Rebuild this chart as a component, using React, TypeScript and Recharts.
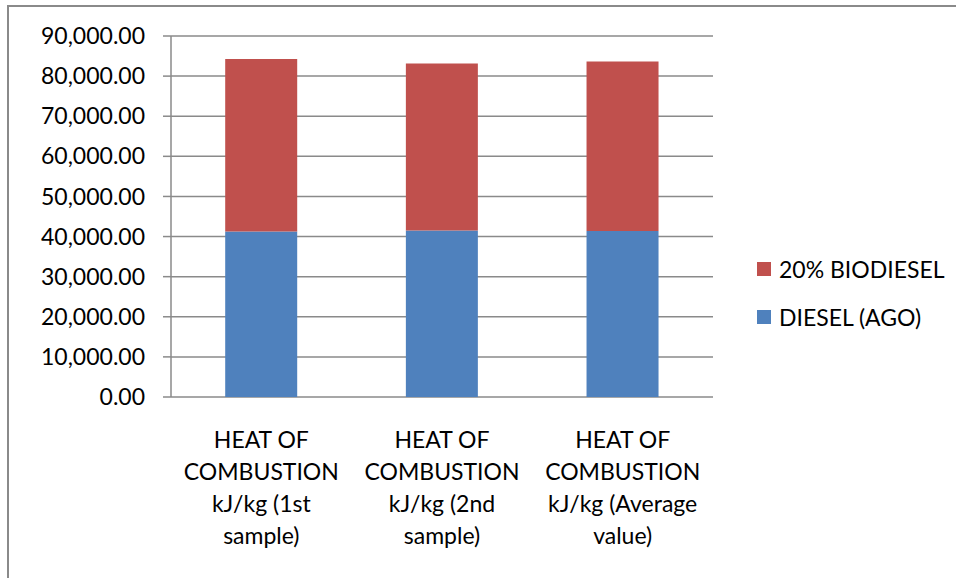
import React from "react";
import { BarChart, Bar, XAxis, YAxis, CartesianGrid, Legend } from "recharts";

const categoryLines = [
  ["HEAT OF", "COMBUSTION", "kJ/kg (1st", "sample)"],
  ["HEAT OF", "COMBUSTION", "kJ/kg (2nd", "sample)"],
  ["HEAT OF", "COMBUSTION", "kJ/kg (Average", "value)"],
];
const categories = categoryLines.map((l) => l.join(" "));
const dieselValues = [41270, 41520, 41400];
const biodieselValues = [43020, 41600, 42220];
const yTicks = [0, 10000, 20000, 30000, 40000, 50000, 60000, 70000, 80000, 90000];
const edgeTicks = [0, 1, 2, 3];

const series = [
  { key: "diesel", name: "DIESEL (AGO)", color: "#4F81BD" },
  { key: "biodiesel", name: "20% BIODIESEL", color: "#C0504D" },
];

const data = categories.map((c, i) => ({
  name: c,
  diesel: dieselValues[i],
  biodiesel: biodieselValues[i],
}));

const FONT = "Lato, 'Open Sans', sans-serif";
const GRID = "#8a8a8a";

function CategoryTick(props: any) {
  const { x, y, index } = props;
  const lines = categoryLines[index] || [];
  return (
    <text x={x} y={y} textAnchor="middle" fontFamily={FONT} fontSize={23} fill="#000">
      {lines.map((line, i) => (
        <tspan key={i} x={x} y={y + 51 + i * 32}>
          {line}
        </tspan>
      ))}
    </text>
  );
}

function LegendBox() {
  const items = [...series].reverse();
  return (
    <div style={{ fontFamily: FONT, fontSize: 23, color: "#000" }}>
      {items.map((s) => (
        <div key={s.key} style={{ display: "flex", alignItems: "center", height: 48 }}>
          <span style={{ width: 14, height: 14, background: s.color, marginRight: 8, display: "inline-block" }} />
          {s.name}
        </div>
      ))}
    </div>
  );
}

export default function App() {
  return (
    <div style={{ position: "absolute", left: 0, top: 0, width: 956, height: 578, overflow: "hidden", background: "#fff" }}>
      <div
        style={{
          position: "absolute",
          left: 7,
          top: 5,
          width: 1200,
          height: 1000,
          borderTop: `2px solid ${GRID}`,
          borderLeft: `2px solid ${GRID}`,
        }}
      />
      <BarChart
        width={956}
        height={578}
        data={data}
        margin={{ top: 36, right: 243, bottom: 0, left: 0 }}
        barCategoryGap="30%"
        style={{ position: "absolute", left: 0, top: 0 }}
      >
        <CartesianGrid horizontal vertical={false} stroke={GRID} strokeWidth={1.5} xAxisId="cat" />
        <XAxis
          xAxisId="edges"
          type="number"
          domain={[0, 3]}
          ticks={edgeTicks}
          tickFormatter={() => ""}
          tickSize={8}
          tickLine={{ stroke: GRID, strokeWidth: 1.5 }}
          axisLine={{ stroke: GRID, strokeWidth: 1.5 }}
          height={0}
        />
        <XAxis
          xAxisId="cat"
          dataKey="name"
          tick={<CategoryTick />}
          tickLine={false}
          axisLine={false}
          tickSize={0}
          tickMargin={0}
          height={181}
          interval={0}
        />
        <YAxis
          width={171}
          domain={[0, 90000]}
          ticks={yTicks}
          tickFormatter={(v: number) =>
            v.toLocaleString("en-US", { minimumFractionDigits: 2, maximumFractionDigits: 2 })
          }
          tick={{ fontFamily: FONT, fontSize: 23, fill: "#000" }}
          tickSize={8}
          tickMargin={18}
          tickLine={{ stroke: GRID, strokeWidth: 1.5 }}
          axisLine={{ stroke: GRID, strokeWidth: 1.5 }}
        />
        <Legend
          content={<LegendBox />}
          layout="vertical"
          align="center"
          verticalAlign="middle"
          wrapperStyle={{ position: "absolute", left: 757, top: 245, width: 200 }}
        />
        {series.map((s) => (
          <Bar
            key={s.key}
            xAxisId="cat"
            dataKey={s.key}
            name={s.name}
            stackId="a"
            fill={s.color}
            isAnimationActive={false}
          />
        ))}
      </BarChart>
    </div>
  );
}
